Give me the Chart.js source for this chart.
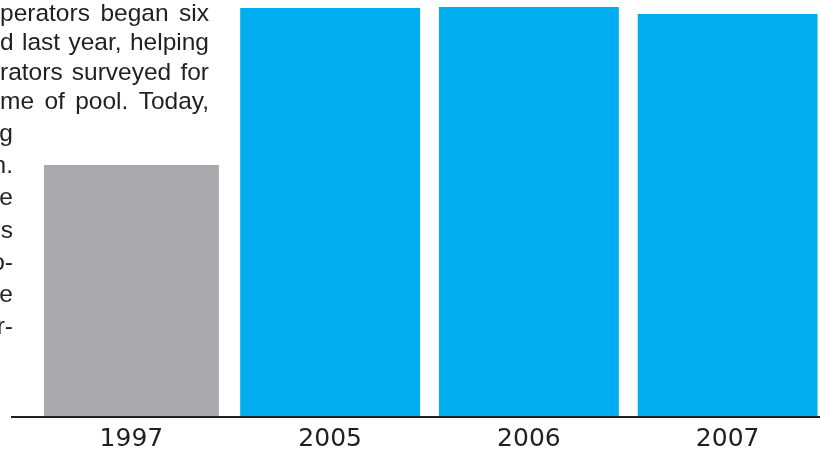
<!DOCTYPE html>
<html>
<head>
<meta charset="utf-8">
<script src="https://cdn.jsdelivr.net/npm/chart.js@4.4.1/dist/chart.umd.min.js"></script>
<style>
  html, body { margin: 0; padding: 0; background: #fff; overflow: hidden; }
  #wrap { position: absolute; left: 0; top: 0; width: 840px; height: 455px; }
</style>
</head>
<body>
<div id="wrap"><canvas id="chart" width="840" height="455"></canvas></div>
<script>
// Bar data: the 1997 baseline year and the three recent years
const years = ['1997', '2005', '2006', '2007'];
const baseValues = [251, null, null, null];
const recentValues = [null, 408, 409, 402];

// Body copy running beside the graphic
const copyTop = ['perators began six', 'd last year, helping', 'rators surveyed for', 'me of pool. Today,'];
const copySide = ['g', 'n.', 'e', 's', 'o-', 'e', 'r-'];

const GRAY = '#a7a9ac';
const BLUE = '#00aeef';
const INK = '#231f20';

// Spread the words of one line across the column width
function fillJustified(ctx, text, left, right, y) {
    const words = text.split(' ');
    const widths = words.map(w => ctx.measureText(w).width);
    const total = widths.reduce((a, b) => a + b, 0);
    const gap = words.length > 1 ? (right - left - total) / (words.length - 1) : 0;
    let x = left;
    words.forEach((w, i) => {
        ctx.fillText(w, x, y);
        x += widths[i] + gap;
    });
}

// Article text and the baseline rule
const extras = {
    id: 'extras',
    beforeDatasetsDraw(chart) {
        const ctx = chart.ctx;
        ctx.save();
        ctx.fillStyle = INK;
        ctx.font = '24.5px "Liberation Sans", Arial, sans-serif';
        ctx.textAlign = 'left';
        ctx.textBaseline = 'alphabetic';
        copyTop.forEach((line, i) => {
            fillJustified(ctx, line, 0, 209, 21 + i * 29.3);
        });
        ctx.textAlign = 'right';
        copySide.forEach((line, i) => {
            ctx.fillText(line, 13, 141 + i * 32.2);
        });
        ctx.restore();
    },
    afterDatasetsDraw(chart) {
        const ctx = chart.ctx;
        const y = chart.scales.y.getPixelForValue(0);
        ctx.save();
        ctx.strokeStyle = INK;
        ctx.lineWidth = 2;
        ctx.beginPath();
        ctx.moveTo(11, y + 1);
        ctx.lineTo(chart.width, y + 1);
        ctx.stroke();
        ctx.restore();
    }
};

new Chart(document.getElementById('chart'), {
    type: 'bar',
    data: {
        labels: years,
        datasets: [{
            data: baseValues,
            backgroundColor: GRAY,
            borderWidth: 0,
            barPercentage: 0.88,
            categoryPercentage: 1
        }, {
            data: recentValues,
            backgroundColor: BLUE,
            borderWidth: 0,
            barPercentage: 0.905,
            categoryPercentage: 1
        }]
    },
    options: {
        responsive: false,
        animation: false,
        layout: { padding: { left: 32, right: 13, top: 0, bottom: 0 } },
        plugins: {
            legend: { display: false },
            tooltip: { enabled: false }
        },
        scales: {
            x: {
                grid: { display: false, drawTicks: false },
                border: { display: false },
                ticks: {
                    color: INK,
                    font: { family: '"DejaVu Sans", sans-serif', size: 25 },
                    padding: 8
                },
                // keep the baseline at a fixed height above the labels
                afterFit(scale) { scale.height = 39; }
            },
            y: {
                display: false,
                min: 0,
                max: 416
            }
        },
        datasets: { bar: { grouped: false, skipNull: true } }
    },
    plugins: [extras]
});
</script>
</body>
</html>
